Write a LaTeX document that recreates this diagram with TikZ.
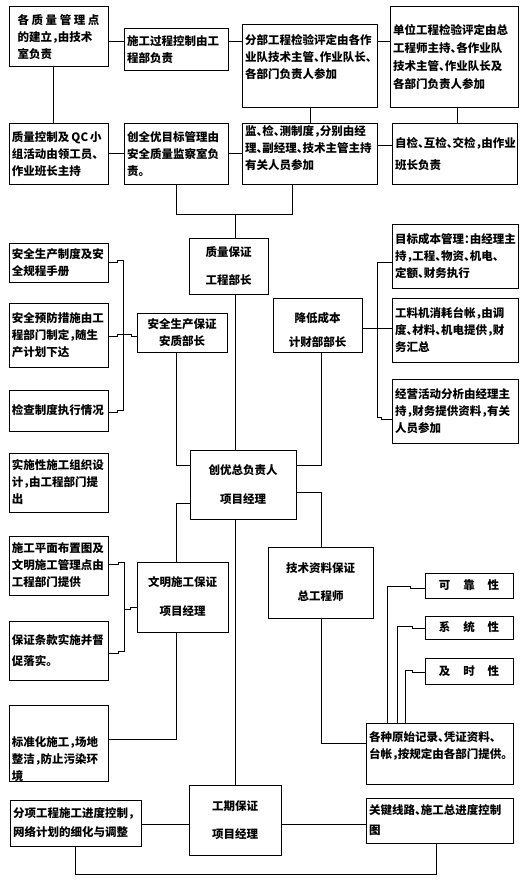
\documentclass[tikz,border=0pt]{standalone}
\usepackage{fontspec}
\setmainfont{Noto Sans CJK SC}[RawFeature=+halt]
\newcommand\bx[7][]{%
  \node[bx, minimum width={(#5-#3)*1pt}, minimum height={(#6-#4)*1pt},
        text width={(#5-#3-6)*1pt}, #1] (#2) at ({(#3+#5)/2},{(#4+#6)/2}) {#7};}
\tikzset{
  bx/.style={draw, line width=1pt, inner sep=0pt, align=left,
             font=\fontsize{11.5}{17}\selectfont\bfseries},
  ttl/.style={align=center},
  cn/.style={line width=1pt},
}
\begin{document}
\begin{tikzpicture}[x=1pt,y=-1pt]
\useasboundingbox (0,0) rectangle (532,885);
\foreach \v in {53,75,117,118,123,124,130,131,176,235,292,310,321,377,381,387,397,405,410,412,436,457}
  {\coordinate (v\v) at (\v,0);}
\foreach \h in {42,146,154,215,260,262,328,334,336,410,412,417,419,465,492,503,562,564,586,588,607,609,626,628,651,653,670,672,739,743,824,874}
  {\coordinate (h\h) at (0,\h);}

% row 1
\bx[text width=82pt]{A}{9}{7}{108}{67}{\mbox{各\hspace{2.6pt}质\hspace{2.6pt}量\hspace{2.6pt}管\hspace{2.6pt}理\hspace{2.6pt}点}\\的建立，由技术\\室负责}
\bx{B}{124}{29}{228}{71}{施工过程控制由工\\程部负责}
\bx{C}{242}{25}{377}{108}{分部工程检验评定由各作\\业队技术主管、作业队长、\\各部门负责人参加\\[3.5pt]\mbox{}}
\bx{D}{390}{7}{518}{108}{单位工程检验评定由总\\[1pt]工程师主持、各作业队\\[1pt]技术主管、作业队长及\\[1pt]各部门负责人参加}
% row 2
\bx{E}{9}{124}{108}{185}{\mbox{质量控制及\hspace{2pt}QC\hspace{2pt}小}\\组活动由领工员、\\作业班长主持}
\bx{F}{124}{124}{228}{185}{创全优目标管理由\\安全质量监察室负\\责。}
\bx{G}{242}{124}{377}{185}{监、检、测制度，分别由经\\理、副经理、技术主管主持\\有关人员参加\\[-3.5pt]\mbox{}}
\bx{H}{392}{124}{517}{185}{自检、互检、交检，由作业\\[5pt]班长负责}
% quality
\bx[ttl]{Q}{189}{238}{268}{294}{质量保证\\[11pt]工程部长}
% safety
\bx{S1}{9}{243}{108}{282}{安全生产制度及安\\全规程手册}
\bx{S2}{9}{303}{108}{367}{安全预防措施由工\\程部门制定，随生\\产计划下达}
\bx{S3}{9}{390}{108}{431}{检查制度执行情况}
\bx[ttl]{SF}{137}{313}{227}{352}{安全生产保证\\安质部长}
% cost
\bx[ttl]{CO}{273}{298}{362}{352}{\mbox{}\\[3pt]降低成本\\[7pt]计财部部长}
\bx{R1}{392}{225}{518}{288}{目标成本管理：由经理主\\持，工程、物资、机电、\\定额、财务执行}
\bx{R2}{392}{298}{518}{362}{工料机消耗台帐，由调\\度、材料、机电提供，财\\务汇总}
\bx{R3}{392}{379}{518}{443}{经营活动分析由经理主\\持，财务提供资料，有关\\人员参加}
% centre
\bx[ttl]{CY}{190}{450}{296}{519}{创优总负责人\\[12pt]项目经理}
\bx{L1}{9}{453}{108}{512}{实施性施工组织设\\计，由工程部门提\\出}
\bx{W1}{9}{536}{108}{595}{施工平面布置图及\\文明施工管理点由\\工程部门提供}
\bx{W2}{9}{621}{108}{680}{保证条款实施并督\\[4pt]促落实。}
\bx[ttl]{WM}{137}{562}{228}{632}{文明施工保证\\[12pt]项目经理}
\bx[ttl]{JS}{268}{547}{373}{618}{技术资料保证\\[11pt]总工程师}
\bx[ttl]{K1}{425}{573}{513}{598}{可\hspace{13pt}靠\hspace{13pt}性}
\bx[ttl]{K2}{425}{616}{513}{639}{系\hspace{13pt}统\hspace{13pt}性}
\bx[ttl]{K3}{425}{658}{513}{684}{及\hspace{13pt}时\hspace{13pt}性}
\bx{YS}{366}{723}{513}{784}{各种原始记录、凭证资料、\\台帐，按规定由各部门提供。\\\mbox{}}
\bx{BZ}{9}{707}{108}{780}{\mbox{}\\[24pt]标准化施工，场地\\整洁，防止污染环\\境}
\bx[ttl]{GQ}{189}{785}{281}{855}{工期保证\\[11pt]项目经理}
\bx{FX}{10}{800}{141}{846}{分项工程施工进度控制，\\[2pt]网络计划的细化与调整}
\bx{GJ}{366}{798}{513}{843}{关键线路、施工总进度控制\\[3pt]图}

% connectors
\draw[cn] (A.east|-h42) -- (B.west|-h42) (B.east|-h42) -- (C.west|-h42) (C.east|-h42) -- (D.west|-h42);
\draw[cn] (A.south-|v53) -- (E.north-|v53);
\draw[cn] (C.south-|v310) -- (G.north-|v310);
\draw[cn] (D.south-|v457) -- (H.north-|v457);
\draw[cn] (E.east|-h154) -- (F.west|-h154) (F.east|-h154) -- (G.west|-h154);
\draw[cn] (G.east|-h146) -- (H.west|-h146);
\draw[cn] (F.south-|v176) -- (v176|-h215) -- (v292|-h215) -- (G.south-|v292);
\draw[cn] (v235|-h215) -- (Q.north-|v235);
\draw[cn] (Q.south-|v235) -- (CY.north-|v235);
% safety bracket
\draw[cn] (S1.east|-h262) -- (v117|-h262) -- (v117|-h260) -- (v123|-h260) -- (v123|-h410) -- (v117|-h410) -- (v117|-h412) -- (S3.east|-h412);
\draw[cn] (S2.east|-h336) -- (v117|-h336) -- (v117|-h334) -- (v131|-h334) -- (v131|-h336) -- (SF.west|-h336);
\draw[cn] (SF.south-|v176) -- (v176|-h465) -- (CY.west|-h465);
% cost bracket
\draw[cn] (R1.west|-h262) -- (v377|-h262) -- (v377|-h417) -- (v381|-h417) -- (v381|-h419) -- (R3.west|-h419);
\draw[cn] (CO.east|-h328) -- (R2.west|-h328);
\draw[cn] (CO.south-|v321) -- (v321|-h465) -- (CY.east|-h465);
% civilised construction
\draw[cn] (CY.west|-h503) -- (v176|-h503) -- (WM.north-|v176);
\draw[cn] (W1.east|-h564) -- (v118|-h564) -- (v118|-h562) -- (v124|-h562) -- (v124|-h651) -- (v118|-h651) -- (v118|-h653) -- (W2.east|-h653);
\draw[cn] (v124|-h609) -- (v130|-h609) -- (v130|-h607) -- (WM.west|-h607);
\draw[cn] (WM.south-|v176) -- (v176|-h739) -- (BZ.east|-h739);
% technical data
\draw[cn] (CY.east|-h492) -- (v321|-h492) -- (JS.north-|v321);
\draw[cn] (JS.south-|v321) -- (v321|-h743) -- (YS.west|-h743);
\draw[cn] (K1.west|-h588) -- (v410|-h588) -- (v410|-h586) -- (v387|-h586) -- (YS.north-|v387);
\draw[cn] (K2.west|-h628) -- (v412|-h628) -- (v412|-h626) -- (v397|-h626) -- (YS.north-|v397);
\draw[cn] (K3.west|-h672) -- (v412|-h672) -- (v412|-h670) -- (v405|-h670) -- (YS.north-|v405);
% schedule
\draw[cn] (CY.south-|v235) -- (GQ.north-|v235);
\draw[cn] (FX.east|-h824) -- (GQ.west|-h824) (GQ.east|-h824) -- (GJ.west|-h824);
\draw[cn] (FX.south-|v75) -- (v75|-h874) -- (v436|-h874) -- (GJ.south-|v436);
\end{tikzpicture}
\end{document}
